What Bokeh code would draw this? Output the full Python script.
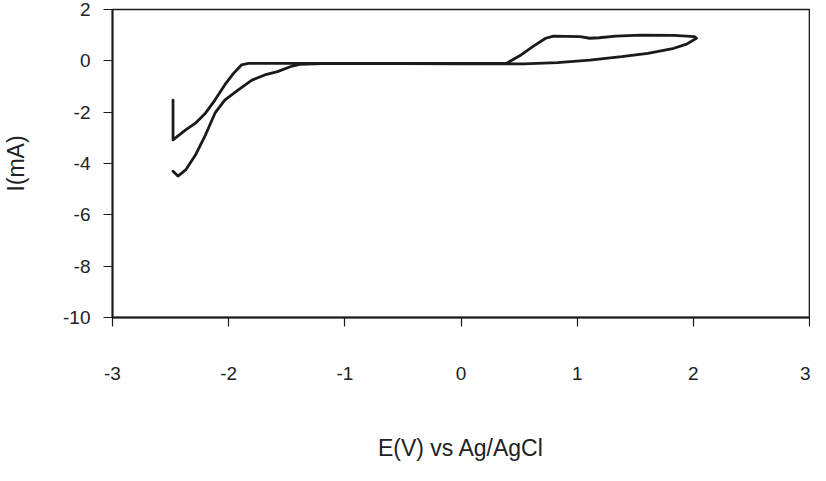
from bokeh.plotting import figure
from bokeh.models import FixedTicker, Range1d
from bokeh.embed import file_html
from bokeh.resources import INLINE

# Cyclic voltammogram: potential E (V vs Ag/AgCl) and current I (mA)
E = [-2.479, -2.479, -2.37, -2.286, -2.20, -2.118, -2.034, -1.958, -1.89, -1.83,
     -1.64, -1.45, -1.13, -0.5, 0.0, 0.39, 0.517, 0.627, 0.729, 0.797,
     1.025, 1.108, 1.19, 1.333, 1.55, 1.833, 2.009, 2.027, 1.942, 1.833,
     1.608, 1.383, 1.108, 0.83, 0.54, 0.39, 0.0, -0.5, -1.13, -1.39,
     -1.47, -1.58, -1.69, -1.80, -1.92, -2.034, -2.118, -2.20, -2.286, -2.37,
     -2.437, -2.479]
I = [-1.53, -3.08, -2.69, -2.43, -2.04, -1.53, -0.94, -0.49, -0.16, -0.10,
     -0.10, -0.10, -0.10, -0.10, -0.10, -0.10, 0.23, 0.58, 0.88, 0.96,
     0.94, 0.88, 0.90, 0.96, 1.0, 0.99, 0.94, 0.88, 0.65, 0.49,
     0.29, 0.16, 0.03, -0.07, -0.12, -0.12, -0.12, -0.11, -0.10, -0.14,
     -0.23, -0.42, -0.55, -0.75, -1.14, -1.53, -2.04, -2.89, -3.67, -4.25,
     -4.49, -4.30]

x_ticks = [-3, -2, -1, 0, 1, 2, 3]
x_tick_labels = ["-3", "-2", "-1", "0", "1", "2", "3"]
y_ticks = [-10, -8, -6, -4, -2, 0, 2]
y_tick_labels = ["-10", "-8", "-6", "-4", "-2", "0", "2"]
x_title = "E(V) vs Ag/AgCl"
y_title = "I(mA)"

FONT = "Liberation Sans"
INK = "#1a1a1a"

p = figure(width=810, height=465, output_backend="svg", toolbar_location=None,
           x_range=Range1d(-3, 3), y_range=Range1d(-10, 2),
           min_border_left=111, min_border_right=1, min_border_top=9,
           min_border_bottom=148)

p.line(E, I, line_color=INK, line_width=2.8, line_join="round", line_cap="round")

p.background_fill_color = "white"
p.border_fill_color = "white"
p.outline_line_color = INK
p.outline_line_width = 1.6
p.xgrid.visible = False
p.ygrid.visible = False

for ax in (p.xaxis[0], p.yaxis[0]):
    ax.axis_line_color = INK
    ax.axis_line_width = 1.8
    ax.major_tick_line_color = INK
    ax.major_tick_line_width = 1.2
    ax.major_tick_out = 9
    ax.major_tick_in = 0
    ax.minor_tick_line_color = None
    ax.major_label_text_font = FONT
    ax.major_label_text_font_size = "19px"
    ax.major_label_text_color = "#222222"
    ax.axis_label_text_font = FONT
    ax.axis_label_text_font_size = "23px"
    ax.axis_label_text_font_style = "normal"
    ax.axis_label_text_color = "#222222"

p.xaxis.ticker = FixedTicker(ticks=x_ticks)
p.yaxis.ticker = FixedTicker(ticks=y_ticks)
p.xaxis.major_label_overrides = dict(zip(x_ticks, x_tick_labels))
p.yaxis.major_label_overrides = dict(zip(y_ticks, y_tick_labels))
p.xaxis.axis_label = x_title
p.yaxis.axis_label = y_title
p.xaxis.major_label_standoff = 40
p.xaxis.axis_label_standoff = 52
p.yaxis.major_label_standoff = 13
p.yaxis.axis_label_standoff = 31

open("out.html", "w").write(file_html(p, INLINE))
